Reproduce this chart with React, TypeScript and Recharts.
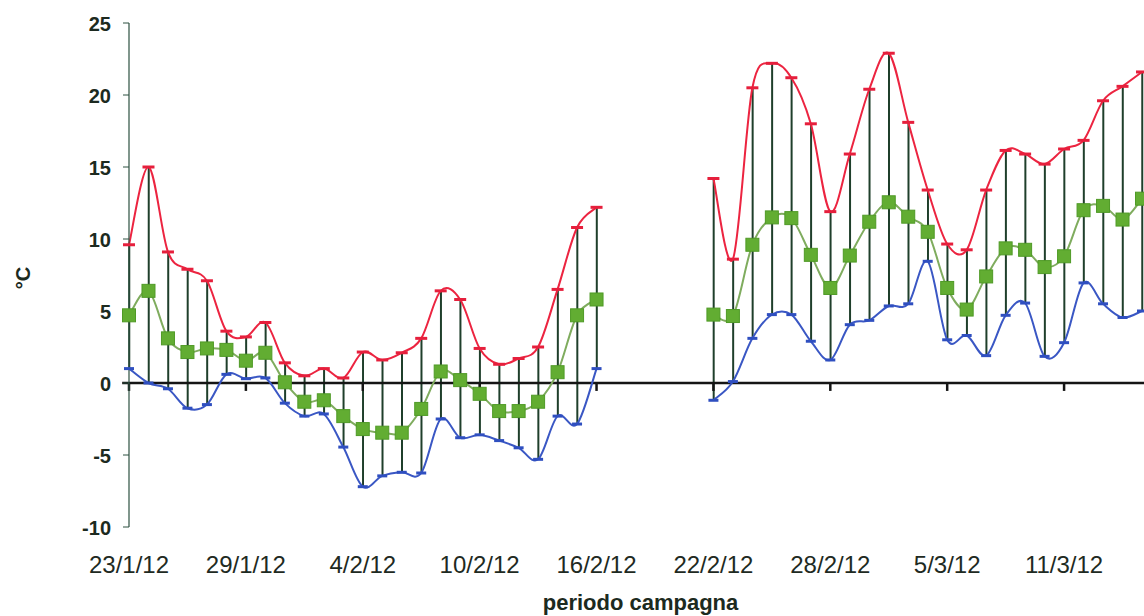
import React from 'react';
import { ComposedChart, Line, Bar, XAxis, YAxis, ReferenceLine } from 'recharts';

// day index from 23/1/12 (0) to 15/3/12 (52); no readings 17/2 - 21/2
const tickDays = [0, 6, 12, 18, 24, 30, 36, 42, 48];
const tickLabels = ['23/1/12', '29/1/12', '4/2/12', '10/2/12', '16/2/12', '22/2/12', '28/2/12', '5/3/12', '11/3/12'];
const yTicks = [-10, -5, 0, 5, 10, 15, 20, 25];

const maxTemp: (number | null)[] = [
  9.6, 15.0, 9.1, 7.9, 7.1, 3.6, 3.2, 4.2, 1.4, 0.5, 1.0, 0.35, 2.15, 1.6, 2.1, 3.1, 6.4, 5.8, 2.4, 1.3, 1.7, 2.5, 6.5, 10.8, 12.2,
  null, null, null, null, null,
  14.2, 8.6, 20.5, 22.2, 21.2, 18.0, 11.9, 15.9, 20.4, 22.9, 18.1, 13.4, 9.65, 9.25, 13.4, 16.15, 15.9, 15.2, 16.25, 16.85, 19.6, 20.6, 21.6,
];
const meanTemp: (number | null)[] = [
  4.7, 6.4, 3.1, 2.15, 2.4, 2.3, 1.55, 2.1, 0.05, -1.3, -1.2, -2.3, -3.2, -3.45, -3.45, -1.8, 0.8, 0.2, -0.75, -1.95, -1.95, -1.3, 0.75, 4.7, 5.8,
  null, null, null, null, null,
  4.75, 4.65, 9.6, 11.5, 11.45, 8.9, 6.6, 8.85, 11.2, 12.55, 11.55, 10.5, 6.6, 5.1, 7.4, 9.35, 9.25, 8.05, 8.8, 12.0, 12.3, 11.35, 12.8,
];
const minTemp: (number | null)[] = [
  1.0, 0.0, -0.4, -1.75, -1.5, 0.6, 0.3, 0.35, -1.4, -2.3, -2.15, -4.45, -7.2, -6.45, -6.2, -6.25, -2.5, -3.8, -3.6, -4.0, -4.5, -5.3, -2.3, -2.85, 1.0,
  null, null, null, null, null,
  -1.2, 0.1, 3.1, 4.75, 4.75, 2.9, 1.6, 4.05, 4.35, 5.35, 5.5, 8.45, 3.0, 3.3, 1.9, 4.7, 5.55, 1.85, 2.8, 6.95, 5.5, 4.55, 5.0,
];

const data = maxTemp.map((mx, i) => ({
  day: i,
  max: mx,
  mean: meanTemp[i],
  min: minTemp[i],
  range: mx != null && minTemp[i] != null ? [minTemp[i], mx] : null,
}));

// Excel-like smoothed line (Catmull-Rom through the points)
const excelCurve = (context: any) => {
  let pts: number[][] = [];
  return {
    areaStart() {},
    areaEnd() {},
    lineStart() {
      pts = [];
    },
    point(x: number, y: number) {
      pts.push([+x, +y]);
    },
    lineEnd() {
      const n = pts.length;
      if (!n) return;
      context.moveTo(pts[0][0], pts[0][1]);
      if (n === 1) {
        context.lineTo(pts[0][0], pts[0][1]);
        return;
      }
      const t = 1 / 6;
      for (let i = 0; i < n - 1; i++) {
        const p0 = pts[i - 1] || pts[i];
        const p1 = pts[i];
        const p2 = pts[i + 1];
        const p3 = pts[i + 2] || p2;
        context.bezierCurveTo(
          p1[0] + (p2[0] - p0[0]) * t,
          p1[1] + (p2[1] - p0[1]) * t,
          p2[0] - (p3[0] - p1[0]) * t,
          p2[1] - (p3[1] - p1[1]) * t,
          p2[0],
          p2[1]
        );
      }
    },
  };
};

const FONT = '"Liberation Sans", Arial, sans-serif';

const dash = (color: string, half: number) => (props: any) => {
  const { cx, cy, value, index } = props;
  if (cx == null || cy == null || value == null || Number.isNaN(cy)) return <g key={`d${color}${index}`} />;
  return <line key={`d${color}${index}`} x1={cx - half} x2={cx + half} y1={cy} y2={cy} stroke={color} strokeWidth={3} />;
};

const square = (props: any) => {
  const { cx, cy, value, index } = props;
  if (cx == null || cy == null || value == null || Number.isNaN(cy)) return <g key={`s${index}`} />;
  return <rect key={`s${index}`} x={cx - 6.5} y={cy - 6.5} width={13} height={13} fill="#62ad32" stroke="#4f9a26" strokeWidth={1} />;
};

const DateTick = (props: any) => {
  const { x, y, payload } = props;
  const idx = tickDays.indexOf(payload.value);
  return (
    <text x={x} y={y + 46} textAnchor="middle" fontSize={24} fill="#1e2a22" fontFamily={FONT}>
      {idx >= 0 ? tickLabels[idx] : ''}
    </text>
  );
};

const ValueTick = (props: any) => {
  const { x, y, payload } = props;
  return (
    <text x={x} y={y + 8} textAnchor="end" fontSize={20} fontWeight="bold" fill="#1c2a20" fontFamily={FONT}>
      {payload.value}
    </text>
  );
};

const YTitle = () => (
  <text transform="translate(30,278) rotate(-90)" textAnchor="middle" fontSize={20} fontWeight="bold" fill="#1c2a20" fontFamily={FONT}>
    °C
  </text>
);

const XTitle = (props: any) => {
  const vb = props.viewBox || {};
  const cx = (vb.x || 0) + (vb.width || 0) / 2 + 5;
  return (
    <text x={cx} y={610} textAnchor="middle" fontSize={22} fontWeight="bold" fill="#1c2a20" fontFamily={FONT}>
      periodo campagna
    </text>
  );
};

export default function App() {
  return (
    <div style={{ position: 'absolute', left: 0, top: 0, width: 1144, height: 616, background: '#fff' }}>
      <ComposedChart width={1144} height={616} data={data} margin={{ top: 23, right: 2, left: 0, bottom: 29 }}>
        <XAxis
          dataKey="day"
          type="number"
          domain={[0, 52]}
          ticks={tickDays}
          interval={0}
          axisLine={false}
          tickLine={false}
          tickSize={0}
          tickMargin={0}
          height={60}
          tick={<DateTick />}
          label={<XTitle />}
        />
        <YAxis
          type="number"
          domain={[-10, 25]}
          ticks={yTicks}
          interval={0}
          width={129}
          axisLine={{ stroke: '#2c5040', strokeWidth: 1.2 }}
          tickLine={{ stroke: '#2c5040', strokeWidth: 1 }}
          tickSize={6}
          tickMargin={12}
          tick={<ValueTick />}
          label={<YTitle />}
        />
        <ReferenceLine
          segment={[{ x: -0.35, y: 0 }, { x: 52.2, y: 0 }]}
          ifOverflow="visible"
          stroke="#151515"
          strokeWidth={2.6}
        />
        {tickDays.map((d) => (
          <ReferenceLine
            key={`t${d}`}
            segment={[{ x: d, y: 0 }, { x: d, y: -0.55 }]}
            ifOverflow="visible"
            stroke="#151515"
            strokeWidth={2.5}
          />
        ))}
        <Bar dataKey="range" barSize={2} fill="#1f3f2b" isAnimationActive={false} />
        <Line
          dataKey="max"
          type={excelCurve as any}
          stroke="#ec2440"
          strokeWidth={2}
          dot={dash('#e61f3c', 6)}
          activeDot={false}
          isAnimationActive={false}
        />
        <Line
          dataKey="min"
          type={excelCurve as any}
          stroke="#3a57c4"
          strokeWidth={2}
          dot={dash('#2f4fc0', 5)}
          activeDot={false}
          isAnimationActive={false}
        />
        <Line
          dataKey="mean"
          type={excelCurve as any}
          stroke="#7fac5e"
          strokeWidth={2}
          dot={square}
          activeDot={false}
          isAnimationActive={false}
        />
      </ComposedChart>
    </div>
  );
}
